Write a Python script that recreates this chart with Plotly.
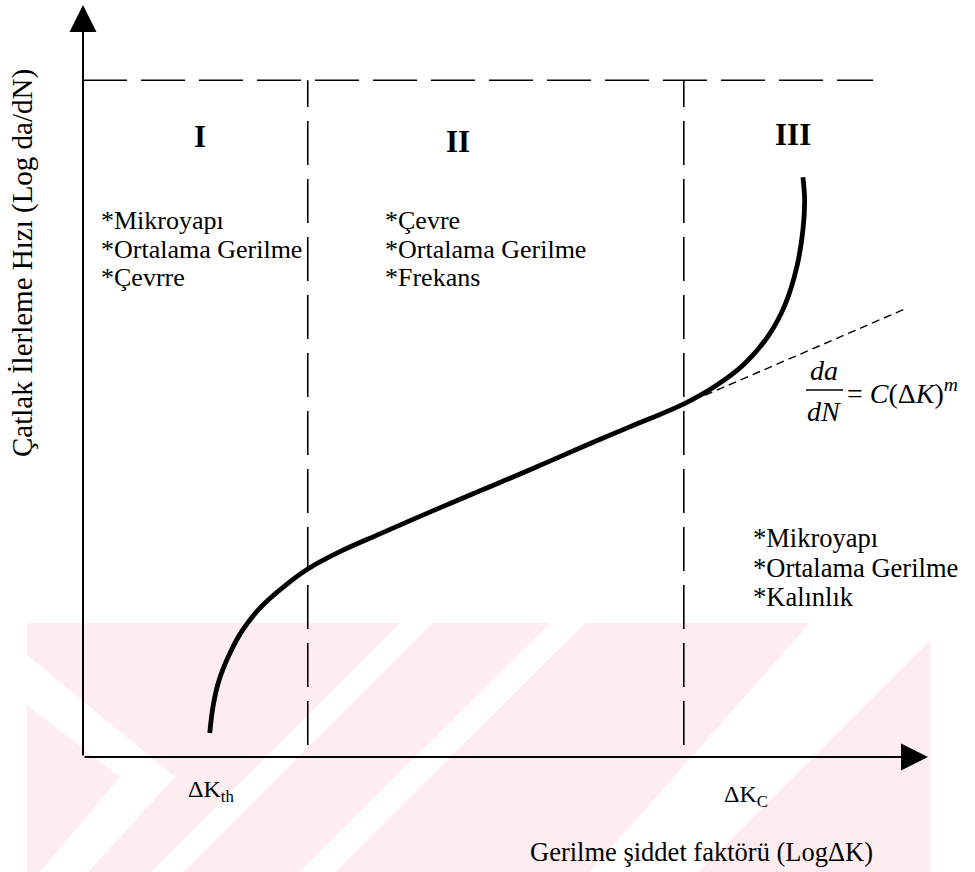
import plotly.graph_objects as go

# ---------------- data (schematic units) ----------------
# Log(ΔK) axis runs 0..10, Log(da/dN) axis runs 0..10
curve_logdK = [1.50, 1.54, 1.61, 1.73, 1.89, 2.11, 2.37, 2.66, 3.04, 3.52, 4.11, 4.70,
               5.29, 5.88, 6.47, 7.10, 7.48, 7.83, 8.11, 8.31, 8.45, 8.52, 8.54, 8.52]
curve_logdadN = [0.32, 0.68, 1.02, 1.36, 1.69, 2.00, 2.26, 2.50, 2.73, 2.97, 3.26, 3.54,
                 3.82, 4.11, 4.39, 4.69, 4.93, 5.23, 5.60, 6.02, 6.53, 7.01, 7.41, 7.71]
paris_logdK = [7.36, 9.73]
paris_logdadN = [4.81, 5.96]
boundary_dK = [2.66, 7.11]          # ΔK_th region border, ΔK_C region border
top_level = 9.0                      # upper dashed limit
boundary_bottom = 0.16
top_line_end = 9.35

region_names = ["I", "II", "III"]
region1_factors = ["*Mikroyapı", "*Ortalama Gerilme", "*Çevrre"]
region2_factors = ["*Çevre", "*Ortalama Gerilme", "*Frekans"]
region3_factors = ["*Mikroyapı", "*Ortalama Gerilme", "*Kalınlık"]
x_title = "Gerilme şiddet faktörü (LogΔK)"
y_title = "Çatlak İlerleme Hızı (Log da/dN)"

# ---------------- layout geometry ----------------
W, H = 975, 872
ML, MR, MT, MB = 83, 47, 5, 115
PW, PH = W - ML - MR, H - MT - MB
XR, YR = (0, 10), (0, 10)


def papx(px):
    return (px - ML) / PW


def papy(py):
    return (H - MB - py) / PH


SERIF = "Liberation Serif, Times New Roman, serif"
fig = go.Figure()

# watermark (very light pink background pattern)
pink = "#fdedf0"
shapes = []


def poly(points, color):
    path = "M " + " L ".join(f"{papx(x):.4f},{papy(y):.4f}" for x, y in points) + " Z"
    shapes.append(dict(type="path", xref="paper", yref="paper", path=path,
                       fillcolor=color, line=dict(width=0), layer="below"))


poly([(27, 623), (930, 623), (930, 872), (27, 872)], pink)
poly([(27, 655), (27, 705), (120, 777), (40, 872), (88, 872), (175, 777)], "white")
poly([(151, 872), (183, 872), (432, 623), (400, 623)], "white")
poly([(300, 872), (335, 872), (585, 623), (550, 623)], "white")
poly([(810, 623), (930, 623), (930, 640), (698, 872), (590, 872)], "white")

# dashed region borders
dash_long = "44px,14px"
for b in boundary_dK:
    fig.add_trace(go.Scatter(x=[b, b], y=[boundary_bottom, top_level], mode="lines",
                             line=dict(color="black", width=1.6, dash=dash_long),
                             hoverinfo="skip", showlegend=False))
fig.add_trace(go.Scatter(x=[0, top_line_end], y=[top_level, top_level], mode="lines",
                         line=dict(color="black", width=1.6, dash=dash_long),
                         hoverinfo="skip", showlegend=False))

# Paris law tangent
fig.add_trace(go.Scatter(x=paris_logdK, y=paris_logdadN, mode="lines",
                         line=dict(color="black", width=1.4, dash="8px,5px"),
                         hoverinfo="skip", showlegend=False))

# crack growth curve
fig.add_trace(go.Scatter(x=curve_logdK, y=curve_logdadN, mode="lines",
                         line=dict(color="black", width=4.8, shape="spline", smoothing=1.0),
                         hoverinfo="skip", showlegend=False))

annotations = []
# axis arrows
annotations.append(dict(x=XR[0], y=YR[1], ax=XR[0], ay=YR[0], xref="x", yref="y",
                        axref="x", ayref="y", text="", showarrow=True, arrowhead=2,
                        arrowsize=2.7, arrowwidth=2, arrowcolor="black", standoff=0))
annotations.append(dict(x=XR[1], y=YR[0], ax=XR[0], ay=YR[0], xref="x", yref="y",
                        axref="x", ayref="y", text="", showarrow=True, arrowhead=2,
                        arrowsize=2.7, arrowwidth=2, arrowcolor="black", standoff=0))


def txt(px, py, s, size=26, xanchor="center", yanchor="middle", **kw):
    annotations.append(dict(x=papx(px), y=papy(py), xref="paper", yref="paper", text=s,
                            showarrow=False, xanchor=xanchor, yanchor=yanchor,
                            font=dict(family=SERIF, size=size, color="black"), **kw))


# region numerals
for (px, py), name in zip([(200, 137), (458, 141), (793, 134)], region_names):
    txt(px, py, f"<b>{name}</b>", size=31)

# factor lists
for i, s in enumerate(region1_factors):
    txt(99, 220 + i * 29, s, xanchor="left")
for i, s in enumerate(region2_factors):
    txt(383, 220 + i * 29, s, xanchor="left")
for i, s in enumerate(region3_factors):
    txt(751, 538 + i * 29.5, s, xanchor="left", size=26.5)

# Paris law formula
txt(824, 370, "<i>da</i>", size=28)
txt(824, 411, "<i>dN</i>", size=28)
shapes.append(dict(type="line", xref="paper", yref="paper", x0=papx(806), x1=papx(843),
                   y0=papy(390), y1=papy(390), line=dict(color="black", width=1.7)))
txt(845, 391, "= <i>C</i>(Δ<i>K</i>)<sup><i>m</i></sup>", size=28, xanchor="left")

# ΔK labels
txt(211, 791, "ΔK<sub>th</sub>", size=24)
txt(746, 796, "ΔK<sub>C</sub>", size=24)

# axis titles
txt(701, 852, x_title, size=26.5)
txt(22, 263, y_title, size=29, textangle=-90)

fig.update_layout(
    width=W, height=H,
    margin=dict(l=ML, r=MR, t=MT, b=MB),
    paper_bgcolor="white", plot_bgcolor="rgba(0,0,0,0)",
    xaxis=dict(range=list(XR), visible=False, fixedrange=True),
    yaxis=dict(range=list(YR), visible=False, fixedrange=True),
    shapes=shapes, annotations=annotations, showlegend=False,
)

fig.write_html("out.html", config={"displayModeBar": False},
               post_script="document.body.style.margin='0px';")
